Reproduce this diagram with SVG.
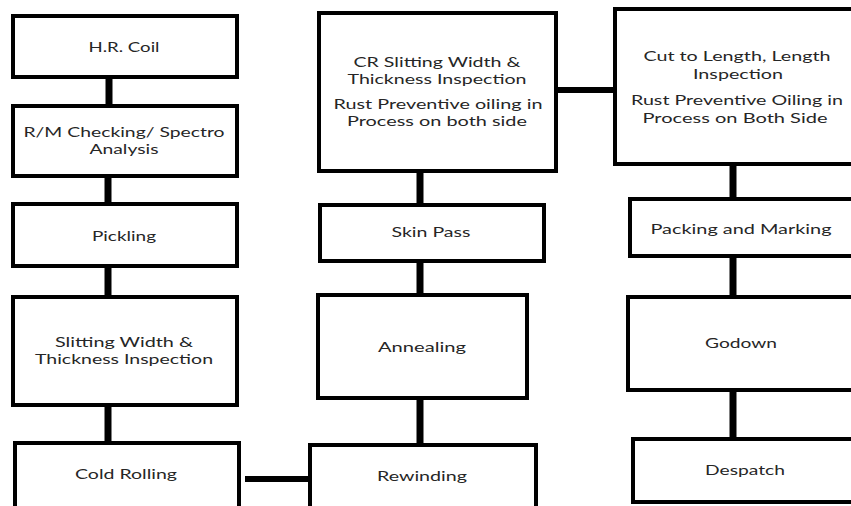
<svg xmlns="http://www.w3.org/2000/svg" width="851" height="506" viewBox="0 0 851 506">
<style>
.box{fill:#fff;stroke:#000;stroke-width:4}
.t{font-family:Lato,"Open Sans","Liberation Sans",sans-serif;font-size:14px;fill:#262626;text-anchor:middle}
.c{stroke:#000;stroke-width:7;fill:none}
.h{stroke:#000;stroke-width:6;fill:none}
</style>
<rect width="851" height="506" fill="#fff"/>
<g id="connectors">
<line class="c" x1="109" y1="78" x2="109" y2="105"/>
<line class="c" x1="108" y1="177" x2="108" y2="203"/>
<line class="c" x1="108" y1="267" x2="108" y2="296"/>
<line class="c" x1="108" y1="406" x2="108" y2="442"/>
<line class="h" x1="245" y1="479" x2="310" y2="479"/>
<line class="c" x1="420" y1="399" x2="420" y2="444"/>
<line class="c" x1="420" y1="262" x2="420" y2="294"/>
<line class="c" x1="420" y1="172" x2="420" y2="204"/>
<line class="h" x1="557" y1="90" x2="614" y2="90"/>
<line class="c" x1="733" y1="165" x2="733" y2="198"/>
<line class="c" x1="733" y1="257" x2="733" y2="296"/>
<line class="c" x1="733" y1="391" x2="733" y2="438"/>
</g>
<g id="hr-coil"><rect class="box" x="13" y="16" width="224" height="61"/><text class="t" x="124" y="52" textLength="71" lengthAdjust="spacingAndGlyphs">H.R. Coil</text></g>
<g id="rm-checking"><rect class="box" x="13" y="106" width="224" height="70"/><text class="t" x="124" y="137" textLength="201" lengthAdjust="spacingAndGlyphs">R/M Checking/ Spectro</text><text class="t" x="124" y="154" textLength="69" lengthAdjust="spacingAndGlyphs">Analysis</text></g>
<g id="pickling"><rect class="box" x="13" y="204" width="224" height="62"/><text class="t" x="124" y="241" textLength="64" lengthAdjust="spacingAndGlyphs">Pickling</text></g>
<g id="slitting"><rect class="box" x="13" y="297" width="224" height="108"/><text class="t" x="124" y="347" textLength="138" lengthAdjust="spacingAndGlyphs">Slitting Width &amp;</text><text class="t" x="124" y="364" textLength="178" lengthAdjust="spacingAndGlyphs">Thickness Inspection</text></g>
<g id="cold-rolling"><rect class="box" x="15" y="443" width="224" height="80"/><text class="t" x="126" y="479" textLength="102" lengthAdjust="spacingAndGlyphs">Cold Rolling</text></g>
<g id="cr-slitting"><rect class="box" x="319" y="13" width="237" height="158"/><text class="t" x="437" y="67" textLength="167" lengthAdjust="spacingAndGlyphs">CR Slitting Width &amp;</text><text class="t" x="437" y="84" textLength="179" lengthAdjust="spacingAndGlyphs">Thickness Inspection</text><text class="t" x="438" y="109" textLength="209" lengthAdjust="spacingAndGlyphs">Rust Preventive oiling in</text><text class="t" x="437" y="126" textLength="180" lengthAdjust="spacingAndGlyphs">Process on both side</text></g>
<g id="skin-pass"><rect class="box" x="320" y="205" width="224" height="56"/><text class="t" x="431" y="237" textLength="79" lengthAdjust="spacingAndGlyphs">Skin Pass</text></g>
<g id="annealing"><rect class="box" x="318" y="295" width="209" height="103"/><text class="t" x="422" y="352" textLength="88" lengthAdjust="spacingAndGlyphs">Annealing</text></g>
<g id="rewinding"><rect class="box" x="310" y="445" width="226" height="80"/><text class="t" x="422" y="481" textLength="90" lengthAdjust="spacingAndGlyphs">Rewinding</text></g>
<g id="cut-to-length"><rect class="box" x="615" y="9" width="250" height="155"/><text class="t" x="737" y="61" textLength="187" lengthAdjust="spacingAndGlyphs">Cut to Length, Length</text><text class="t" x="738" y="79" textLength="90" lengthAdjust="spacingAndGlyphs">Inspection</text><text class="t" x="737" y="105" textLength="212" lengthAdjust="spacingAndGlyphs">Rust Preventive Oiling in</text><text class="t" x="735" y="123" textLength="185" lengthAdjust="spacingAndGlyphs">Process on Both Side</text></g>
<g id="packing"><rect class="box" x="630" y="199" width="235" height="57"/><text class="t" x="741" y="234" textLength="181" lengthAdjust="spacingAndGlyphs">Packing and Marking</text></g>
<g id="godown"><rect class="box" x="628" y="297" width="237" height="93"/><text class="t" x="741" y="348" textLength="72" lengthAdjust="spacingAndGlyphs">Godown</text></g>
<g id="despatch"><rect class="box" x="633" y="439" width="232" height="63"/><text class="t" x="745" y="475" textLength="80" lengthAdjust="spacingAndGlyphs">Despatch</text></g>
</svg>
